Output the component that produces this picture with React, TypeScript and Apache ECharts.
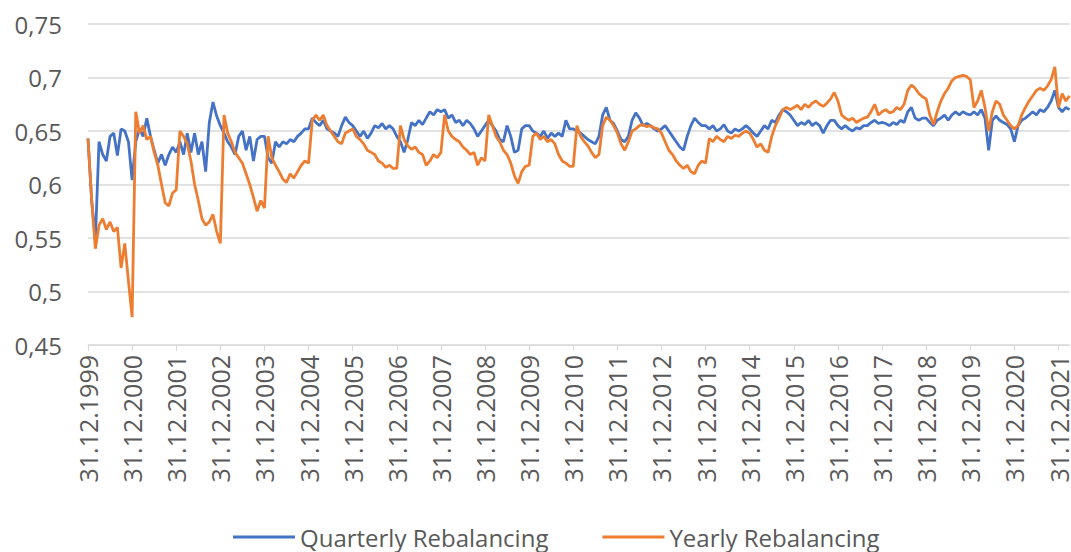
import React, { useEffect, useRef } from "react";
import * as echarts from "echarts";

// Monthly samples starting 31.12.1999 (step = 1/12 year)
const quarterlyRebalancing: number[] = [
  0.643, 0.585, 0.548, 0.640, 0.628, 0.622, 0.645, 0.648, 0.627, 0.652, 0.650, 0.640,
  0.604, 0.640, 0.652, 0.645, 0.662, 0.645, 0.632, 0.620, 0.628, 0.618, 0.628, 0.635,
  0.630, 0.640, 0.628, 0.648, 0.630, 0.648, 0.628, 0.640, 0.612, 0.658, 0.677, 0.664,
  0.655, 0.648, 0.640, 0.635, 0.628, 0.645, 0.650, 0.632, 0.645, 0.622, 0.642, 0.645,
  0.645, 0.625, 0.620, 0.640, 0.635, 0.640, 0.638, 0.642, 0.640, 0.645, 0.648, 0.652,
  0.652, 0.662, 0.658, 0.655, 0.660, 0.652, 0.650, 0.648, 0.645, 0.655, 0.663, 0.658,
  0.655, 0.650, 0.645, 0.650, 0.643, 0.648, 0.655, 0.653, 0.657, 0.652, 0.655, 0.652,
  0.645, 0.640, 0.630, 0.642, 0.658, 0.655, 0.660, 0.656, 0.662, 0.668, 0.665, 0.670,
  0.668, 0.670, 0.662, 0.665, 0.658, 0.660, 0.655, 0.660, 0.657, 0.652, 0.645, 0.650,
  0.655, 0.660, 0.655, 0.650, 0.642, 0.640, 0.655, 0.645, 0.630, 0.632, 0.652, 0.655,
  0.655, 0.650, 0.648, 0.645, 0.650, 0.643, 0.648, 0.645, 0.648, 0.645, 0.660, 0.652,
  0.652, 0.650, 0.648, 0.645, 0.642, 0.640, 0.638, 0.645, 0.665, 0.672, 0.660, 0.657,
  0.650, 0.642, 0.640, 0.645, 0.660, 0.667, 0.662, 0.655, 0.657, 0.655, 0.652, 0.650,
  0.652, 0.655, 0.650, 0.645, 0.640, 0.635, 0.632, 0.645, 0.655, 0.662, 0.658, 0.655,
  0.655, 0.652, 0.655, 0.650, 0.652, 0.656, 0.650, 0.648, 0.652, 0.650, 0.652, 0.655,
  0.652, 0.648, 0.645, 0.650, 0.655, 0.652, 0.660, 0.658, 0.665, 0.670, 0.668, 0.665,
  0.660, 0.655, 0.658, 0.656, 0.660, 0.655, 0.658, 0.655, 0.648, 0.655, 0.660, 0.660,
  0.655, 0.652, 0.655, 0.652, 0.650, 0.653, 0.652, 0.655, 0.655, 0.658, 0.660, 0.657,
  0.658, 0.657, 0.655, 0.658, 0.656, 0.660, 0.658, 0.668, 0.672, 0.662, 0.660, 0.662,
  0.662, 0.658, 0.655, 0.660, 0.662, 0.665, 0.660, 0.665, 0.668, 0.665, 0.668, 0.666,
  0.665, 0.668, 0.665, 0.670, 0.662, 0.632, 0.660, 0.664, 0.660, 0.658, 0.656, 0.652,
  0.640, 0.655, 0.660, 0.662, 0.665, 0.668, 0.665, 0.670, 0.668, 0.672, 0.678, 0.688,
  0.672, 0.668, 0.672, 0.670,
];

const yearlyRebalancing: number[] = [
  0.643, 0.585, 0.540, 0.562, 0.568, 0.558, 0.565, 0.556, 0.560, 0.522, 0.545, 0.510,
  0.476, 0.668, 0.648, 0.655, 0.642, 0.645, 0.630, 0.618, 0.600, 0.583, 0.580, 0.592,
  0.595, 0.650, 0.645, 0.638, 0.622, 0.600, 0.585, 0.568, 0.562, 0.565, 0.572, 0.556,
  0.545, 0.665, 0.648, 0.640, 0.630, 0.625, 0.620, 0.610, 0.600, 0.588, 0.575, 0.585,
  0.578, 0.645, 0.625, 0.618, 0.612, 0.605, 0.602, 0.610, 0.606, 0.612, 0.618, 0.622,
  0.620, 0.660, 0.665, 0.660, 0.665, 0.655, 0.650, 0.645, 0.640, 0.638, 0.648, 0.650,
  0.652, 0.645, 0.642, 0.638, 0.632, 0.630, 0.628, 0.622, 0.620, 0.616, 0.618, 0.615,
  0.615, 0.655, 0.642, 0.636, 0.633, 0.635, 0.630, 0.628, 0.618, 0.622, 0.628, 0.625,
  0.630, 0.665, 0.650, 0.645, 0.642, 0.640, 0.635, 0.632, 0.628, 0.630, 0.618, 0.625,
  0.622, 0.665, 0.655, 0.645, 0.640, 0.632, 0.628, 0.620, 0.608, 0.601, 0.612, 0.617,
  0.618, 0.645, 0.648, 0.642, 0.645, 0.640, 0.642, 0.638, 0.628, 0.622, 0.620, 0.617,
  0.617, 0.655, 0.645, 0.640, 0.636, 0.630, 0.625, 0.628, 0.655, 0.663, 0.660, 0.655,
  0.648, 0.638, 0.632, 0.640, 0.650, 0.652, 0.655, 0.656, 0.654, 0.655, 0.653, 0.652,
  0.648, 0.640, 0.632, 0.628, 0.622, 0.618, 0.615, 0.618, 0.612, 0.610, 0.618, 0.622,
  0.620, 0.643, 0.640, 0.645, 0.642, 0.640, 0.645, 0.643, 0.646, 0.645, 0.648, 0.650,
  0.648, 0.642, 0.635, 0.638, 0.632, 0.630, 0.645, 0.655, 0.662, 0.670, 0.672, 0.670,
  0.672, 0.674, 0.670, 0.675, 0.672, 0.676, 0.678, 0.675, 0.673, 0.676, 0.680, 0.686,
  0.678, 0.665, 0.662, 0.660, 0.662, 0.658, 0.660, 0.662, 0.663, 0.668, 0.675, 0.665,
  0.668, 0.670, 0.667, 0.668, 0.672, 0.670, 0.675, 0.688, 0.693, 0.690, 0.685, 0.682,
  0.680, 0.665, 0.656, 0.668, 0.678, 0.685, 0.690, 0.697, 0.700, 0.701, 0.702, 0.701,
  0.698, 0.672, 0.678, 0.688, 0.672, 0.650, 0.668, 0.678, 0.675, 0.665, 0.660, 0.655,
  0.652, 0.655, 0.665, 0.672, 0.678, 0.683, 0.688, 0.690, 0.688, 0.692, 0.698, 0.710,
  0.672, 0.685, 0.678, 0.683,
];

const firstTickYear = 1999;
const tickPrefix = "31.12.";
const stepsPerYear = 12;
const seriesNames = ["Quarterly Rebalancing", "Yearly Rebalancing"];
const yTicks = { min: 0.45, max: 0.75, interval: 0.05 };

const FONT = "'Open Sans', 'Noto Sans', sans-serif";
const TEXT = "#595959";

export default function App() {
  const ref = useRef<HTMLDivElement>(null);
  useEffect(() => {
    if (!ref.current) return;
    const chart = echarts.init(ref.current, null, { renderer: "svg" });
    const toPairs = (arr: number[]) => arr.map((v, i) => [i / stepsPerYear, v]);
    const xMax = (quarterlyRebalancing.length - 1) / stepsPerYear;
    chart.setOption({
      animation: false,
      backgroundColor: "#ffffff",
      grid: { left: 88, right: 0, top: 24, bottom: 207, containLabel: false },
      legend: {
        left: 233,
        top: 524,
        padding: 0,
        icon: "rect",
        itemWidth: 62,
        itemHeight: 3,
        itemGap: 54,
        textStyle: { fontFamily: FONT, fontSize: 24, color: TEXT, lineHeight: 26 },
        data: seriesNames,
      },
      xAxis: {
        type: "value",
        min: 0,
        max: xMax,
        interval: 1,
        axisLine: { show: true, lineStyle: { color: "#d9d9d9", width: 1 } },
        axisTick: { show: true, length: 6, lineStyle: { color: "#d9d9d9" } },
        splitLine: { show: false },
        axisLabel: {
          rotate: 90,
          margin: 10,
          fontFamily: FONT,
          fontSize: 25,
          lineHeight: 19,
          color: TEXT,
          showMaxLabel: false,
          formatter: (v: number) =>
            Math.abs(v - Math.round(v)) < 1e-9 ? tickPrefix + (firstTickYear + Math.round(v)) : "",
        },
      },
      yAxis: {
        type: "value",
        min: yTicks.min,
        max: yTicks.max,
        interval: yTicks.interval,
        axisLine: { show: false },
        axisTick: { show: false },
        splitLine: { show: true, lineStyle: { color: "#d9d9d9", width: 1.5 } },
        axisLabel: {
          margin: 26,
          fontFamily: FONT,
          fontSize: 24,
          color: TEXT,
          formatter: (v: number) => String(Math.round(v * 100) / 100).replace(".", ","),
        },
      },
      series: [
        {
          name: seriesNames[0],
          type: "line",
          data: toPairs(quarterlyRebalancing),
          showSymbol: false,
          symbol: "none",
          lineStyle: { color: "#4472C4", width: 2.8 },
          itemStyle: { color: "#4472C4" },
        },
        {
          name: seriesNames[1],
          type: "line",
          data: toPairs(yearlyRebalancing),
          showSymbol: false,
          symbol: "none",
          lineStyle: { color: "#ED7D31", width: 2.8 },
          itemStyle: { color: "#ED7D31" },
        },
      ],
    });
    return () => chart.dispose();
  }, []);
  return (
    <div
      ref={ref}
      style={{ position: "fixed", left: 0, top: 0, width: 1071, height: 552, background: "#fff" }}
    />
  );
}
